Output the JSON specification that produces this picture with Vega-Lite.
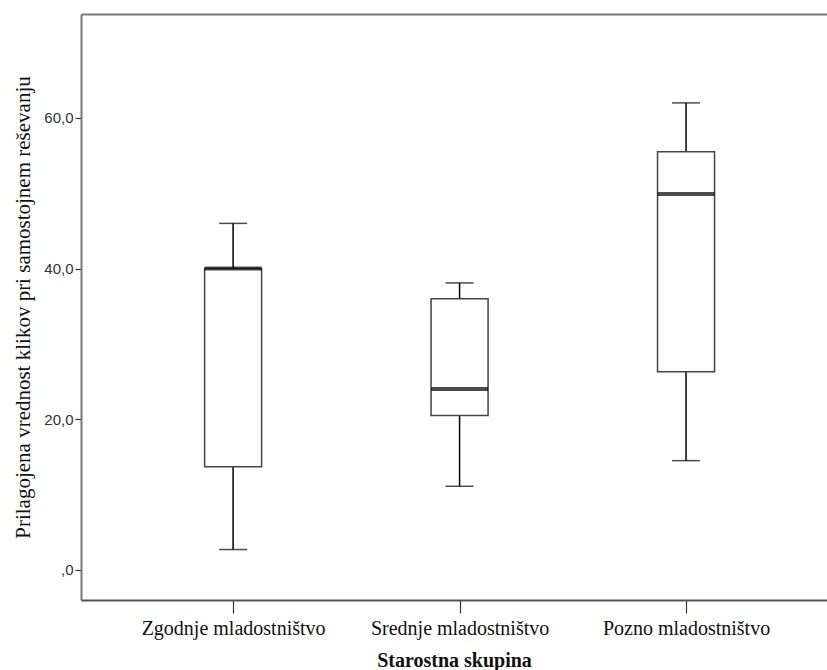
{
  "$schema": "https://vega.github.io/schema/vega-lite/v6.json",
  "autosize": "none",
  "width": 746,
  "height": 586,
  "padding": {"left": 81, "top": 14, "right": 0, "bottom": 70},
  "background": "white",
  "config": {
    "view": {"stroke": null},
    "axis": {"grid": false}
  },
  "data": {
    "values": [
      {"group": "Zgodnje mladostništvo", "min": 2.7, "q1": 13.7, "median": 40.0, "q3": 40.0, "max": 46.0},
      {"group": "Srednje mladostništvo", "min": 11.1, "q1": 20.5, "median": 24.0, "q3": 36.0, "max": 38.1},
      {"group": "Pozno mladostništvo", "min": 14.5, "q1": 26.3, "median": 49.9, "q3": 55.5, "max": 62.0}
    ]
  },
  "resolve": {"axis": {"x": "independent", "y": "independent"}},
  "layer": [
    {
      "mark": {"type": "rule", "color": "black", "strokeWidth": 1.5},
      "encoding": {
        "x": {
          "field": "group", "type": "nominal",
          "sort": ["Zgodnje mladostništvo", "Srednje mladostništvo", "Pozno mladostništvo"],
          "scale": {"type": "point", "padding": 0.647, "align": 0.519},
          "axis": {"orient": "top", "labels": false, "ticks": false, "title": null, "domain": true, "domainColor": "#777777", "domainWidth": 2}
        },
        "y": {
          "field": "min", "type": "quantitative",
          "scale": {"domain": [-4, 73.8], "nice": false, "zero": false},
          "axis": {
            "orient": "left",
            "values": [0, 20, 40, 60],
            "labelExpr": "datum.value == 0 ? ',0' : replace(format(datum.value, '.1f'), '.', ',')",
            "labelFont": "Liberation Sans",
            "labelFontSize": 15,
            "labelColor": "#333333",
            "labelPadding": 2,
            "tickSize": 6,
            "tickColor": "#333333",
            "tickWidth": 1.2,
            "domainColor": "#777777",
            "domainWidth": 2,
            "title": "Prilagojena vrednost klikov pri samostojnem reševanju",
            "titleFont": "Liberation Serif",
            "titleFontSize": 21,
            "titleFontWeight": "normal",
            "titleColor": "#111111",
            "titlePadding": 10,
            "titleLimit": 0
          }
        },
        "y2": {"field": "max"}
      }
    },
    {
      "mark": {"type": "bar", "fill": "white", "stroke": "#444444", "strokeWidth": 1.5, "size": 57},
      "encoding": {
        "x": {
          "field": "group", "type": "nominal",
          "sort": ["Zgodnje mladostništvo", "Srednje mladostništvo", "Pozno mladostništvo"],
          "axis": {
            "orient": "bottom",
            "labelFont": "Liberation Serif",
            "labelFontSize": 20,
            "labelColor": "#111111",
            "labelAngle": 0,
            "labelPadding": 5,
            "labelLimit": 0,
            "tickSize": 13,
            "tickColor": "#333333",
            "tickWidth": 1.2,
            "domainColor": "#555555",
            "domainWidth": 2,
            "title": "Starostna skupina",
            "titleFont": "Liberation Serif",
            "titleFontSize": 20,
            "titleFontWeight": "bold",
            "titleColor": "#111111",
            "titlePadding": 12
          }
        },
        "y": {"field": "q1", "type": "quantitative", "axis": null},
        "y2": {"field": "q3"}
      }
    },
    {
      "mark": {"type": "tick", "color": "black", "size": 28, "thickness": 1.5},
      "encoding": {
        "x": {"field": "group", "type": "nominal", "sort": ["Zgodnje mladostništvo", "Srednje mladostništvo", "Pozno mladostništvo"], "axis": null},
        "y": {"field": "min", "type": "quantitative", "axis": null}
      }
    },
    {
      "mark": {"type": "tick", "color": "black", "size": 28, "thickness": 1.5},
      "encoding": {
        "x": {"field": "group", "type": "nominal", "sort": ["Zgodnje mladostništvo", "Srednje mladostništvo", "Pozno mladostništvo"], "axis": null},
        "y": {"field": "max", "type": "quantitative", "axis": null}
      }
    },
    {
      "mark": {"type": "tick", "color": "black", "size": 57, "thickness": 4},
      "encoding": {
        "x": {"field": "group", "type": "nominal", "sort": ["Zgodnje mladostništvo", "Srednje mladostništvo", "Pozno mladostništvo"], "axis": null},
        "y": {"field": "median", "type": "quantitative", "axis": null}
      }
    }
  ]
}
